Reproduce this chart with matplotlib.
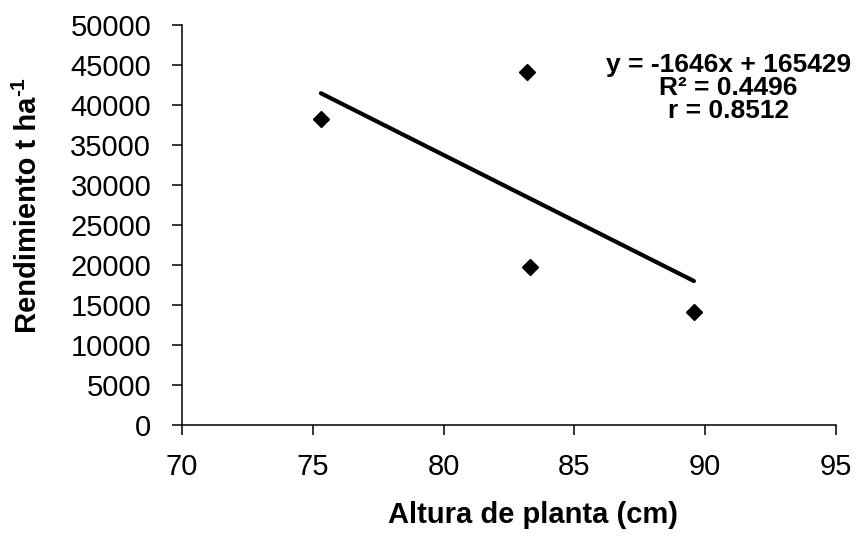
import matplotlib
matplotlib.use("Agg")
import matplotlib.pyplot as plt
import numpy as np

plt.rcParams['font.family'] = ['Liberation Sans', 'DejaVu Sans']

# Plant height (cm) and yield
altura = [75.31, 83.20, 83.31, 89.57]
rendimiento = [38250, 44090, 19710, 14090]

# Linear trend reported on the chart
pendiente = -1646
intercepto = 165429
r2 = 0.4496
r = 0.8512

x_ticks = [70, 75, 80, 85, 90, 95]
y_ticks = list(range(0, 50001, 5000))

W, H = 859, 539
fig = plt.figure(figsize=(W / 100, H / 100), dpi=100)
ax = fig.add_axes([0.2119, 0.2115, 0.7613, 0.7421])

ax.plot(altura, rendimiento, linestyle='none', marker='D', markersize=8,
        color='black', zorder=3)

x_line = np.array([min(altura), max(altura)])
ax.plot(x_line, pendiente * x_line + intercepto, color='black', lw=3.0,
        solid_capstyle='round')

ax.set_xlim(70, 95)
ax.set_ylim(0, 50000)
ax.set_xticks(x_ticks)
ax.set_yticks(y_ticks)
ax.spines['top'].set_visible(False)
ax.spines['right'].set_visible(False)
for s in ('left', 'bottom'):
    ax.spines[s].set_linewidth(1.1)
ax.tick_params(axis='both', direction='out', length=7.2, width=1.1, labelsize=21)
ax.tick_params(axis='y', pad=15)
ax.tick_params(axis='x', pad=13)

fig.text(533 / W, 1 - 523 / H, 'Altura de planta (cm)', ha='center',
         va='baseline', fontsize=21, fontweight='bold')

# Y label with a raised "-1" exponent placed right after the main text
ylab = fig.text(28 / W, 1 - 333 / H, 'Rendimiento t ha', ha='center',
                va='bottom', rotation=90, fontsize=21, fontweight='bold')
bb = ylab.get_window_extent(renderer=fig.canvas.get_renderer())
fig.text(19 / W, (bb.y1 + 1) / H, '-1', ha='center', va='bottom',
         rotation=90, fontsize=15, fontweight='bold')

lineas = [f'y = {pendiente}x + {intercepto}', f'R² = {r2:.4f}', f'r = {r:.4f}']
for texto, yb in zip(lineas, [0.8825, 0.825, 0.7675]):
    ax.text(0.836, yb, texto, transform=ax.transAxes, ha='center',
            va='baseline', fontsize=19, fontweight='bold')

fig.savefig('out.png', dpi=100)
